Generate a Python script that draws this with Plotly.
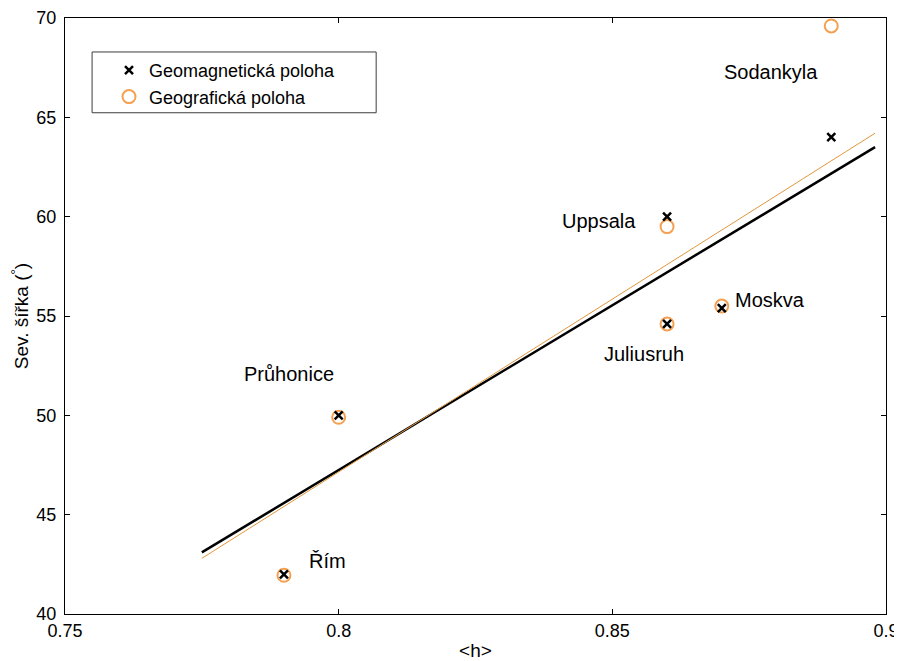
import plotly.graph_objects as go

# station values
stations = ["Sodankyla", "Uppsala", "Moskva", "Juliusruh", "Průhonice", "Řím"]
h_mean = [0.89, 0.86, 0.87, 0.86, 0.80, 0.79]
lat_geomag = [64.0, 60.0, 55.4, 54.6, 50.0, 42.0]
lat_geogr = [69.6, 59.5, 55.5, 54.6, 49.9, 41.95]

# fitted lines (end points)
fit_x = [0.775, 0.898]
fit_geomag = [43.1, 63.5]
fit_geogr = [42.8, 64.2]

# label positions
label_x = [0.879, 0.8475, 0.8788, 0.8558, 0.791, 0.798]
label_y = [67.3, 59.8, 55.8, 53.1, 52.1, 42.65]

ORANGE = "rgb(245,160,80)"
FONT = "Liberation Sans, Arial, sans-serif"

fig = go.Figure()

fig.add_trace(go.Scatter(
    x=fit_x, y=fit_geomag, mode="lines",
    line=dict(color="black", width=2.5), showlegend=False,
))
fig.add_trace(go.Scatter(
    x=fit_x, y=fit_geogr, mode="lines",
    line=dict(color="rgb(225,150,60)", width=1), showlegend=False,
))
fig.add_trace(go.Scatter(
    x=h_mean, y=lat_geogr, mode="markers", name="Geografická poloha",
    marker=dict(symbol="circle-open", size=13, color=ORANGE, line=dict(width=2)),
))
fig.add_trace(go.Scatter(
    x=h_mean, y=lat_geomag, mode="markers", name="Geomagnetická poloha",
    marker=dict(symbol="x-thin-open", size=8, color="black", line=dict(width=2.5, color="black")),
))

for name, lx, ly in zip(stations, label_x, label_y):
    fig.add_annotation(x=lx, y=ly, text=name, showarrow=False,
                       font=dict(size=20, color="black", family=FONT))

# legend frame (matlab style box, wider than plotly's own)
fig.add_shape(type="rect", xref="paper", yref="paper",
              x0=0.033, x1=0.379, y0=0.841, y1=0.943,
              line=dict(color="rgb(60,60,60)", width=1),
              fillcolor="white", layer="below")

axis_common = dict(
    showgrid=False, zeroline=False, showline=True, linecolor="black",
    linewidth=1, mirror="ticks", ticks="inside", ticklen=5,
    tickcolor="black", tickfont=dict(size=18, color="black", family=FONT),
    automargin=False,
)

fig.update_xaxes(range=[0.75, 0.9], tickvals=[0.75, 0.8, 0.85, 0.9],
                 ticktext=["0.75", "0.8", "0.85", "0.9"], ticklabelstandoff=0,
                 title=dict(text="&lt;h&gt;", standoff=4,
                            font=dict(size=19, color="black", family=FONT)),
                 **axis_common)
fig.update_yaxes(range=[40, 70], dtick=5, ticklabelstandoff=4,
                 title=dict(text="Sev. šířka (<sup>°</sup>)", standoff=6,
                            font=dict(size=19, color="black", family=FONT)),
                 **axis_common)

# page body adds 8px, so the figure is 8px smaller than the window
fig.update_layout(
    width=894, height=653,
    margin=dict(l=57, r=16, t=10, b=47),
    plot_bgcolor="white", paper_bgcolor="white",
    font=dict(family=FONT, color="black"),
    legend=dict(
        x=0.0536, y=0.943, xanchor="left", yanchor="top",
        traceorder="reversed", bgcolor="rgba(0,0,0,0)", borderwidth=0,
        font=dict(size=18, color="black", family=FONT),
        itemwidth=30, tracegroupgap=0,
    ),
)

fig.write_html("out.html")
